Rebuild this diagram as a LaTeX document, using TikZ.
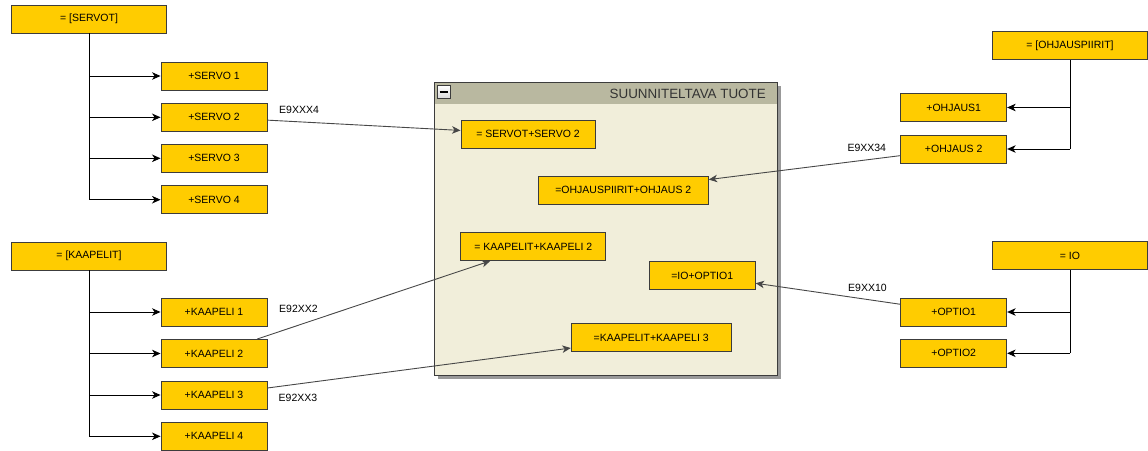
\documentclass[tikz,border=0pt]{standalone}
\usepackage{fontspec}
\setmainfont{Liberation Sans}
\usetikzlibrary{arrows.meta}
\definecolor{boxfill}{HTML}{FFCC00}
\definecolor{boxline}{HTML}{3C3C3C}
\definecolor{panelbody}{HTML}{F1EEDA}
\definecolor{panelhead}{HTML}{B9B8A0}
\definecolor{paneltext}{HTML}{333333}
\begin{document}
\begin{tikzpicture}[x=1pt,y=-1pt,
  item/.style={draw=boxline, fill=boxfill, line width=0.9pt, minimum height=28pt,
    inner sep=0pt, font=\fontsize{10.5}{12}\selectfont},
  group/.style={item, minimum width=155pt},
  leaf/.style={item, minimum width=106pt},
  tree/.style={draw=black, line width=0.9pt, -{Stealth[length=8.5pt,width=7.5pt,inset=2.5pt]}},
  link/.style={draw=black!72, line width=0.9pt, -{Stealth[length=8.5pt,width=7.5pt,inset=2.5pt]}},
  tag/.style={font=\fontsize{10.5}{12}\selectfont, inner sep=0pt, anchor=west}]
\useasboundingbox (0,0) rectangle (1148,450);

% ---- product panel ----
\fill[black!40] (437.5,85.5) rectangle (781,379);
\fill[panelbody] (434.3,82.3) rectangle (777.7,375.7);
\fill[panelhead] (434.3,82.3) rectangle (777.7,104);
\draw[boxline, line width=0.9pt] (434.3,82.3) rectangle (777.7,375.7);
\node[draw=boxline, line width=0.8pt, top color=white, bottom color=black!15,
  minimum size=13pt, inner sep=0pt] (fold) at (444,92) {};
\draw[black, line width=1.6pt] ([xshift=2.5pt]fold.west) -- ([xshift=-2.5pt]fold.east);
\node[anchor=east, inner sep=0pt, text=paneltext, font=\fontsize{13.4}{14}\selectfont]
  (paneltitle) at (766,93.5) {SUUNNITELTAVA TUOTE};

% ---- panel contents ----
\node[item, minimum width=134pt] (p1) at (528,134) {= SERVOT+SERVO 2};
\node[item, minimum width=170pt] (p2) at (623.3,190.2) {=OHJAUSPIIRIT+OHJAUS 2};
\node[item, minimum width=145pt] (p3) at (533.3,246.5) {= KAAPELIT+KAAPELI 2};
\node[item, minimum width=106pt] (p4) at (702.2,275.5) {=IO+OPTIO1};
\node[item, minimum width=160pt] (p5) at (651.2,337.5) {=KAAPELIT+KAAPELI 3};

% ---- left trees ----
\node[group] (servot) at (89,19) {= [SERVOT]};
\node[leaf] (s1) at (214,76) {+SERVO 1};
\node[leaf] (s2) at (214,117.3) {+SERVO 2};
\node[leaf] (s3) at (214,158.3) {+SERVO 3};
\node[leaf] (s4) at (214,199.7) {+SERVO 4};

\node[group] (kaap) at (89,256) {= [KAAPELIT]};
\node[leaf] (k1) at (214,312) {+KAAPELI 1};
\node[leaf] (k2) at (214,353.5) {+KAAPELI 2};
\node[leaf] (k3) at (214,395) {+KAAPELI 3};
\node[leaf] (k4) at (214,436.3) {+KAAPELI 4};

% ---- right trees ----
\node[group] (ohj) at (1070,45.7) {= [OHJAUSPIIRIT]};
\node[leaf] (o1) at (953.7,107.5) {+OHJAUS1};
\node[leaf] (o2) at (953.7,149) {+OHJAUS 2};

\node[group] (io) at (1070,255.7) {= IO};
\node[leaf] (i1) at (953.7,312) {+OPTIO1};
\node[leaf] (i2) at (953.7,353.3) {+OPTIO2};

% tree branches
\draw[black, line width=0.9pt] (servot.south) -- (servot.south |- s4.west);
\foreach \c in {s1,s2,s3,s4} \draw[tree] (servot.south |- \c.west) -- (\c.west);
\draw[black, line width=0.9pt] (kaap.south) -- (kaap.south |- k4.west);
\foreach \c in {k1,k2,k3,k4} \draw[tree] (kaap.south |- \c.west) -- (\c.west);
\draw[black, line width=0.9pt] (ohj.south) -- (ohj.south |- o2.east);
\foreach \c in {o1,o2} \draw[tree] (ohj.south |- \c.east) -- (\c.east);
\draw[black, line width=0.9pt] (io.south) -- (io.south |- i2.east);
\foreach \c in {i1,i2} \draw[tree] (io.south |- \c.east) -- (\c.east);

% ---- links into the panel ----
\draw[link] (s2) -- (p1);
\draw[link] (o2) -- (p2);
\draw[link] (k2) -- (p3);
\draw[link] (i1) -- (p4);
\draw[link] (k3) -- (p5);

\node[tag] (l1) at (279,110) {E9XXX4};
\node[tag] (l2) at (847.3,147.7) {E9XX34};
\node[tag] (l3) at (279,309) {E92XX2};
\node[tag] (l4) at (278.5,398.3) {E92XX3};
\node[tag] (l5) at (848,288) {E9XX10};
\end{tikzpicture}
\end{document}
